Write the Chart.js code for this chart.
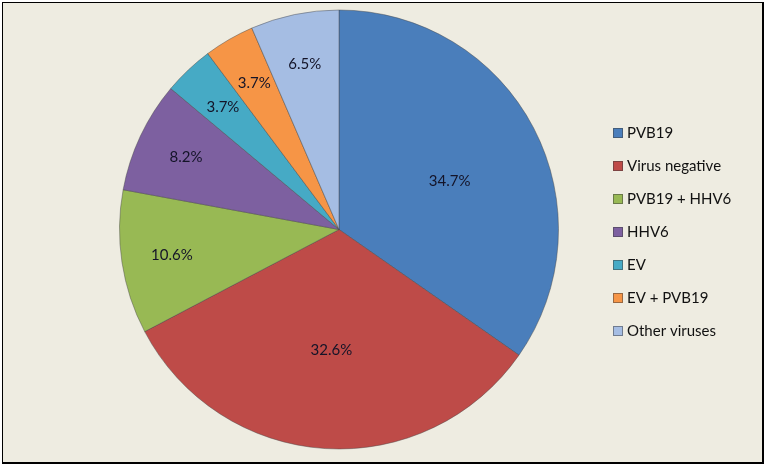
<!DOCTYPE html>
<html lang="en">
<head>
    <meta charset="UTF-8">
    <title>Virus distribution</title>
    <script src="https://cdn.jsdelivr.net/npm/chart.js"></script>
    <style>
        body {
            margin: 0;
            background-color: #ffffff;
        }
        #wrap {
            width: 765px;
            height: 466px;
        }
    </style>
</head>
<body>
    <div id="wrap"><canvas id="pieChart" width="765" height="466"></canvas></div>
    <script>
        const labels = ['PVB19', 'Virus negative', 'PVB19 + HHV6', 'HHV6', 'EV', 'EV + PVB19', 'Other viruses'];
        const percents = [34.7, 32.6, 10.6, 8.2, 3.7, 3.7, 6.5];
        const colors = ['#4a7ebb', '#be4b48', '#98b954', '#7d60a0', '#46aac5', '#f69546', '#a5bde3'];

        // background + frame like the original picture
        const framePlugin = {
            id: 'frame',
            beforeDraw(chart) {
                const c = chart.ctx;
                c.save();
                c.fillStyle = '#ffffff';
                c.fillRect(0, 0, chart.width, chart.height);
                c.fillStyle = '#eeece1';
                c.fillRect(2, 2, 761, 461);
                c.fillStyle = '#000000';
                c.fillRect(2, 2, 762, 1);
                c.fillRect(2, 2, 1, 462);
                c.fillRect(762, 2, 2, 462);
                c.fillRect(2, 462, 762, 2);
                c.restore();
            }
        };

        // percent labels inside the slices
        const sliceLabels = {
            id: 'sliceLabels',
            afterDatasetsDraw(chart) {
                const c = chart.ctx;
                const meta = chart.getDatasetMeta(0);
                c.save();
                c.font = '15px Lato, "Open Sans", sans-serif';
                c.fillStyle = '#141428';
                c.textAlign = 'center';
                c.textBaseline = 'middle';
                meta.data.forEach((arc, i) => {
                    const p = arc.getProps(['x', 'y', 'startAngle', 'endAngle', 'outerRadius'], true);
                    let mid = (p.startAngle + p.endAngle) / 2;
                    const f = percents[i] > 30 ? 0.55 : 0.77;
                    if (i === 0) mid += 0.07; // excel nudges this one a bit
                    const x = p.x + Math.cos(mid) * p.outerRadius * f;
                    const y = p.y + Math.sin(mid) * p.outerRadius * f;
                    c.fillText(percents[i].toFixed(1) + '%', x, y);
                });
                c.restore();
            }
        };

        // legend on the right
        const sideLegend = {
            id: 'sideLegend',
            afterDraw(chart) {
                const c = chart.ctx;
                c.save();
                c.font = '15px Lato, "Open Sans", sans-serif';
                c.textBaseline = 'middle';
                labels.forEach((lab, i) => {
                    const y = 133 + i * 33;
                    c.fillStyle = colors[i];
                    c.fillRect(613, y - 5, 10, 10);
                    c.strokeStyle = 'rgba(60,60,60,0.5)';
                    c.lineWidth = 1;
                    c.strokeRect(613.5, y - 4.5, 9, 9);
                    c.fillStyle = '#111111';
                    c.fillText(lab, 627, y);
                });
                c.restore();
            }
        };

        new Chart(document.getElementById('pieChart'), {
            type: 'pie',
            data: {
                labels: labels,
                datasets: [{
                    data: percents,
                    backgroundColor: colors,
                    borderColor: 'rgba(70,70,70,0.45)',
                    borderWidth: 1
                }]
            },
            options: {
                responsive: false,
                animation: false,
                layout: {
                    padding: { left: 119, right: 206, top: 9, bottom: 16 }
                },
                plugins: {
                    legend: { display: false },
                    tooltip: { enabled: false }
                }
            },
            plugins: [framePlugin, sliceLabels, sideLegend]
        });
    </script>
</body>
</html>
